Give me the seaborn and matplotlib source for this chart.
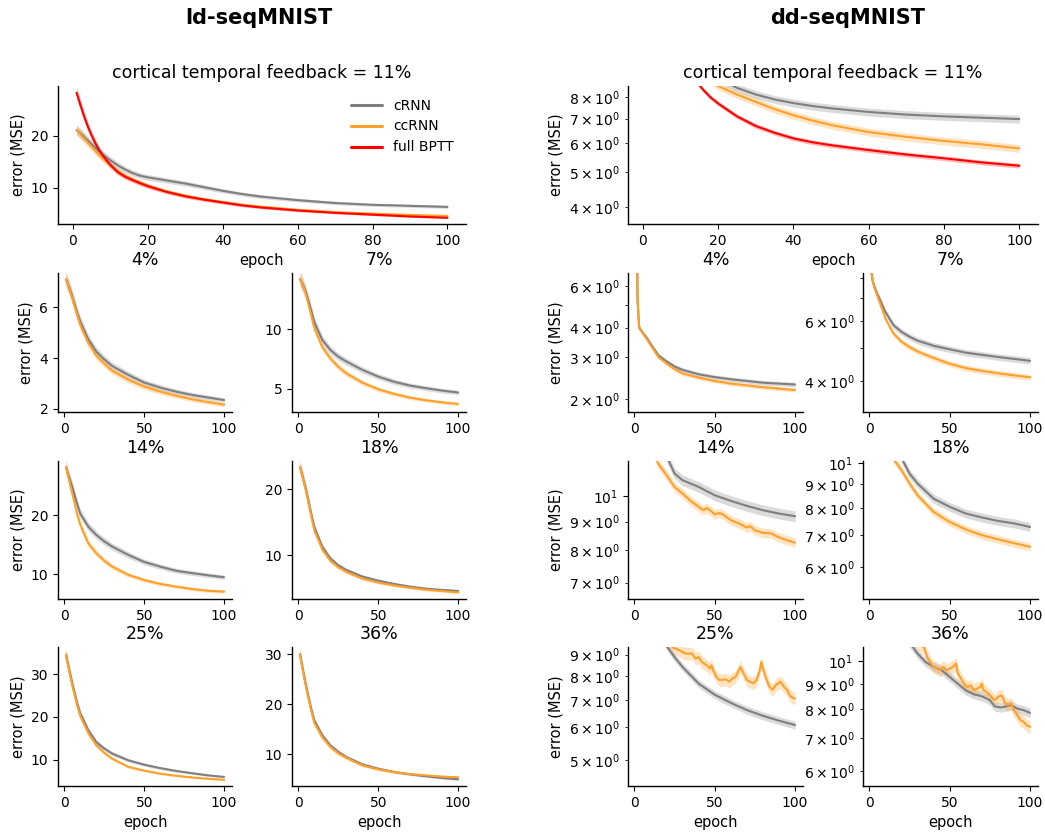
import numpy as np
import matplotlib
matplotlib.use("Agg")
import matplotlib.pyplot as plt
from matplotlib.lines import Line2D
import seaborn as sns

# ---------------- data ----------------
TOP_EPOCHS = [1, 2, 3, 4, 5, 6, 7, 8, 10, 12, 14, 16, 18, 20, 25, 30, 35, 40, 45, 50, 60, 70, 80, 90, 100]
EPOCHS = [1, 2, 3, 5, 8, 10, 15, 20, 25, 30, 40, 50, 60, 70, 80, 90, 100]

# ld-seqMNIST, 11 %
ld11_crnn = [21.1, 20.5, 19.8, 19.1, 18.4, 17.7, 17.0, 16.4, 15.3, 14.3, 13.5, 12.8, 12.3, 12.0, 11.4, 10.8, 10.1,
             9.4, 8.8, 8.3, 7.6, 7.05, 6.7, 6.5, 6.3]
ld11_ccrnn = [21.1, 20.3, 19.5, 18.7, 17.9, 17.1, 16.3, 15.6, 14.3, 13.2, 12.3, 11.6, 11.0, 10.4, 9.3, 8.45, 7.8,
              7.25, 6.75, 6.35, 5.75, 5.3, 5.0, 4.75, 4.55]
ld11_bptt = [28.3, 26.0, 23.8, 21.8, 20.1, 18.6, 17.3, 16.2, 14.4, 13.0, 12.1, 11.45, 10.85, 10.3, 9.2, 8.35, 7.7,
             7.15, 6.6, 6.2, 5.6, 5.15, 4.8, 4.45, 4.2]
# ld-seqMNIST, small panels
ld04_crnn = [7.1, 6.95, 6.8, 6.42, 5.8, 5.44, 4.74, 4.26, 3.95, 3.69, 3.34, 3.04, 2.84, 2.68, 2.55, 2.45, 2.35]
ld04_ccrnn = [7.1, 6.93, 6.75, 6.35, 5.7, 5.3, 4.6, 4.1, 3.78, 3.5, 3.15, 2.88, 2.68, 2.52, 2.38, 2.27, 2.17]
ld07_crnn = [14.2, 13.95, 13.7, 13.0, 11.6, 10.6, 9.1, 8.27, 7.7, 7.3, 6.6, 6.03, 5.6, 5.28, 5.06, 4.86, 4.7]
ld07_ccrnn = [14.2, 13.9, 13.6, 12.8, 11.2, 10.1, 8.5, 7.57, 6.85, 6.3, 5.53, 4.97, 4.58, 4.27, 4.05, 3.88, 3.74]
ld14_crnn = [28.2, 27.3, 26.5, 24.8, 22.0, 20.3, 18.1, 16.7, 15.6, 14.7, 13.3, 12.1, 11.3, 10.6, 10.2, 9.83, 9.5]
ld14_ccrnn = [28.2, 27.1, 26.0, 23.7, 20.3, 18.4, 15.25, 13.6, 12.3, 11.3, 9.9, 9.03, 8.36, 7.9, 7.5, 7.2, 7.05]
ld18_crnn = [23.4, 22.6, 21.7, 19.8, 16.4, 14.3, 11.3, 9.55, 8.5, 7.8, 6.8, 6.17, 5.67, 5.27, 4.96, 4.77, 4.62]
ld18_ccrnn = [23.4, 22.5, 21.5, 19.5, 16.0, 13.8, 10.9, 9.2, 8.2, 7.5, 6.5, 5.9, 5.45, 5.1, 4.8, 4.6, 4.4]
ld25_crnn = [34.6, 32.9, 31.2, 27.8, 23.3, 20.8, 16.9, 14.1, 12.6, 11.4, 9.84, 8.8, 8.0, 7.33, 6.8, 6.3, 5.93]
ld25_ccrnn = [34.6, 32.7, 30.8, 27.3, 22.7, 20.2, 16.2, 13.35, 11.6, 10.2, 8.3, 7.4, 6.7, 6.2, 5.8, 5.5, 5.25]
ld36_crnn = [30.1, 28.4, 26.7, 23.5, 19.2, 16.8, 13.8, 11.8, 10.5, 9.47, 8.0, 7.13, 6.47, 6.0, 5.6, 5.27, 5.0]
ld36_ccrnn = [30.1, 28.2, 26.4, 23.2, 18.8, 16.3, 13.4, 11.5, 10.2, 9.3, 7.8, 7.0, 6.45, 6.05, 5.8, 5.55, 5.4]

# dd-seqMNIST, 11 %
dd11_crnn = [20.0, 18.5, 17.2, 16.1, 15.2, 14.4, 13.7, 13.0, 12.0, 11.1, 10.4, 9.8, 9.35, 9.0, 8.5, 8.15, 7.9,
             7.72, 7.58, 7.47, 7.3, 7.18, 7.1, 7.04, 6.98]
dd11_ccrnn = [20.0, 18.5, 17.0, 15.8, 14.8, 14.0, 13.2, 12.6, 11.5, 10.5, 9.8, 9.3, 8.9, 8.6, 8.15, 7.78, 7.43,
              7.15, 6.92, 6.72, 6.43, 6.24, 6.08, 5.95, 5.8]
dd11_bptt = [25.0, 21.0, 18.5, 16.3, 14.6, 13.3, 12.3, 11.5, 10.3, 9.5, 8.9, 8.4, 8.0, 7.7, 7.1, 6.68, 6.4,
             6.18, 6.03, 5.92, 5.74, 5.58, 5.45, 5.31, 5.2]
# dd-seqMNIST, small panels
dd04_crnn = [30.0, 5.2, 4.0, 3.82, 3.6, 3.42, 3.05, 2.88, 2.74, 2.65, 2.54, 2.47, 2.42, 2.38, 2.34, 2.32, 2.3]
dd04_ccrnn = [30.0, 5.2, 4.0, 3.8, 3.55, 3.38, 3.0, 2.82, 2.67, 2.56, 2.46, 2.38, 2.32, 2.28, 2.24, 2.21, 2.18]
dd07_crnn = [8.5, 7.9, 7.6, 7.2, 6.7, 6.38, 5.84, 5.58, 5.4, 5.26, 5.08, 4.96, 4.85, 4.78, 4.71, 4.65, 4.59]
dd07_ccrnn = [8.5, 7.9, 7.55, 7.1, 6.5, 6.1, 5.52, 5.22, 5.04, 4.89, 4.68, 4.5, 4.37, 4.29, 4.22, 4.16, 4.11]
dd14_crnn = [30.0, 25.0, 22.0, 18.0, 15.0, 14.0, 12.7, 11.8, 10.97, 10.67, 10.38, 10.03, 9.8, 9.6, 9.43, 9.3, 9.2]
dd14_ccrnn_x = [1, 2, 3, 5, 8, 10, 14, 15, 20, 25, 30, 35, 40, 43, 45, 48, 50, 53, 55, 60, 65, 70, 72, 75, 80, 85, 90, 95, 100]
dd14_ccrnn = [30.0, 25.0, 22.0, 17.0, 14.0, 13.0, 11.55, 11.4, 10.9, 10.38, 10.1, 9.8, 9.56, 9.43, 9.52, 9.38, 9.27, 9.32,
              9.27, 9.05, 8.93, 8.78, 8.83, 8.68, 8.59, 8.57, 8.43, 8.33, 8.25]
dd18_crnn = [25.0, 21.0, 19.0, 16.0, 13.5, 12.5, 11.0, 10.25, 9.49, 9.04, 8.39, 8.06, 7.8, 7.65, 7.52, 7.43, 7.3]
dd18_ccrnn = [25.0, 21.0, 18.0, 15.0, 12.5, 11.5, 10.2, 9.65, 9.04, 8.53, 7.86, 7.48, 7.21, 7.01, 6.87, 6.74, 6.62]
dd25_crnn = [25.0, 21.0, 18.0, 15.0, 12.5, 11.6, 10.4, 9.45, 8.88, 8.4, 7.66, 7.2, 6.88, 6.61, 6.4, 6.23, 6.08]
dd25_ccrnn_x = [1, 2, 3, 5, 8, 10, 15, 20, 24, 28, 32, 36, 38, 40, 42, 45, 47, 48, 49, 51, 53, 57, 59, 61, 63, 65,
                66, 68, 70, 72, 74, 76, 78, 79, 80, 82, 84, 86, 88, 91, 93, 95, 97, 99, 100]
dd25_ccrnn = [25.0, 21.0, 18.0, 15.0, 12.5, 11.8, 10.6, 9.8, 9.36, 9.22, 9.05, 9.05, 8.8, 8.88, 8.64, 8.48, 8.33, 8.48,
              8.25, 7.95, 7.81, 7.84, 7.74, 7.88, 7.95, 8.25, 8.4, 8.1, 7.81, 7.74, 7.67, 7.81, 8.25, 8.64, 8.33,
              7.88, 7.53, 7.4, 7.6, 7.74, 7.53, 7.4, 7.14, 7.07, 7.05]
dd36_crnn_x = [1, 2, 3, 5, 8, 10, 15, 20, 25, 30, 35, 40, 45, 50, 55, 60, 65, 70, 75, 78, 82, 85, 88, 92, 96, 100]
dd36_crnn = [30.0, 25.0, 22.0, 18.0, 15.0, 14.0, 12.8, 11.7, 10.9, 10.35, 9.95, 9.73, 9.58, 9.29, 9.0, 8.73, 8.57,
             8.49, 8.34, 8.1, 8.06, 8.1, 8.15, 8.02, 7.96, 7.86]
dd36_ccrnn_x = [1, 2, 3, 5, 8, 10, 15, 20, 25, 30, 34, 36, 39, 42, 44, 46, 48, 50, 52, 54, 55, 57, 59, 61, 63, 65,
                67, 69, 70, 71, 73, 75, 78, 80, 82, 83, 84, 86, 88, 90, 92, 94, 96, 98, 100]
dd36_ccrnn = [30.0, 25.0, 22.0, 18.0, 15.0, 14.0, 12.8, 11.9, 11.3, 10.9, 10.64, 10.19, 9.8, 9.65, 9.58, 9.73, 9.58,
              9.65, 9.73, 9.88, 9.43, 9.22, 9.0, 8.86, 8.93, 8.73, 8.8, 8.86, 9.0, 8.73, 8.66, 8.53, 8.34, 8.46,
              8.53, 8.46, 8.27, 8.15, 8.21, 7.96, 7.78, 7.6, 7.54, 7.42, 7.37]

SERIES_NAMES = ["cRNN", "ccRNN", "full BPTT"]
PANEL_TITLES = ["4%", "7%", "14%", "18%", "25%", "36%"]
TOP_TITLE = "cortical temporal feedback = 11%"
COLUMN_TITLES = ["ld-seqMNIST", "dd-seqMNIST"]

# ---------------- style ----------------
sns.set_style("ticks")
plt.rcParams.update({
    "font.family": ["DejaVu Sans"],
    "font.size": 10,
    "axes.titlesize": 12.5,
    "axes.labelsize": 10.5,
    "xtick.labelsize": 10,
    "ytick.labelsize": 10,
    "legend.fontsize": 10,
    "text.color": "black",
    "axes.labelcolor": "black",
    "axes.edgecolor": "black",
    "xtick.color": "black",
    "ytick.color": "black",
    "axes.linewidth": 1.0,
})
C_GRAY = "#7f7f7f"
C_ORANGE = "#ffa02a"
C_RED = "#ff0000"
BAND_ALPHA = 0.28

W, H = 1045, 832
fig = plt.figure(figsize=(W / 100, H / 100), dpi=100)


def place(x0, y0, x1, y1):
    return fig.add_axes([x0 / W, 1 - y1 / H, (x1 - x0) / W, (y1 - y0) / H])


def draw(ax, x, y, color, band):
    x = np.asarray(x, float)
    y = np.asarray(y, float)
    ax.fill_between(x, y * (1 - band), y * (1 + band), color=color, alpha=BAND_ALPHA, lw=0)
    sns.lineplot(x=x, y=y, ax=ax, color=color, lw=1.5, legend=False)


def finish(ax, title, ylim, log, ylabel, xlabel):
    if log:
        ax.set_yscale("log")
    ax.set_ylim(*ylim)
    ax.set_xlim(-3.95, 104.95)
    ax.set_title(title)
    ax.set_ylabel("error (MSE)" if ylabel else "")
    ax.set_xlabel("epoch" if xlabel else "")
    sns.despine(ax=ax)


TOP = (86, 224)
ROWS = [(273, 412), (461, 599), (647, 786)]
L_COLS = [(58, 232), (292, 466)]
R_COLS = [(628, 803), (863, 1038)]

# ---- top-left: ld 11% ----
ax = place(58, TOP[0], 466, TOP[1])
draw(ax, TOP_EPOCHS, ld11_crnn, C_GRAY, 0.045)
draw(ax, TOP_EPOCHS, ld11_ccrnn, C_ORANGE, 0.045)
draw(ax, TOP_EPOCHS, ld11_bptt, C_RED, 0.04)
finish(ax, TOP_TITLE, (3.0, 29.6), False, True, True)
ax.set_xticks([0, 20, 40, 60, 80, 100])
handles = [Line2D([], [], color=c, lw=2.2) for c in (C_GRAY, C_ORANGE, C_RED)]
ax.legend(handles, SERIES_NAMES, loc="upper right", frameon=False, handlelength=2.2)

# ---- top-right: dd 11% ----
ax = place(628, TOP[0], 1038, TOP[1])
draw(ax, TOP_EPOCHS, dd11_crnn, C_GRAY, 0.025)
draw(ax, TOP_EPOCHS, dd11_ccrnn, C_ORANGE, 0.025)
draw(ax, TOP_EPOCHS, dd11_bptt, C_RED, 0.015)
finish(ax, TOP_TITLE, (3.6, 8.6), True, True, True)
ax.set_xticks([0, 20, 40, 60, 80, 100])

# ---- ld small panels ----
ld_panels = [
    (ld04_crnn, ld04_ccrnn, (1.88, 7.35), [2, 4, 6]),
    (ld07_crnn, ld07_ccrnn, (3.07, 14.7), [5, 10]),
    (ld14_crnn, ld14_ccrnn, (5.8, 29.25), [10, 20]),
    (ld18_crnn, ld18_ccrnn, (3.4, 24.3), [10, 20]),
    (ld25_crnn, ld25_ccrnn, (3.8, 36.4), [10, 20, 30]),
    (ld36_crnn, ld36_ccrnn, (3.66, 31.5), [10, 20, 30]),
]
for i, (yc, yo, yl, yt) in enumerate(ld_panels):
    r, c = divmod(i, 2)
    ax = place(L_COLS[c][0], ROWS[r][0], L_COLS[c][1], ROWS[r][1])
    draw(ax, EPOCHS, yc, C_GRAY, 0.04)
    draw(ax, EPOCHS, yo, C_ORANGE, 0.04)
    finish(ax, PANEL_TITLES[i], yl, False, c == 0, r == 2)
    ax.set_yticks(yt)

# ---- dd small panels ----
dd_panels = [
    ((EPOCHS, dd04_crnn), (EPOCHS, dd04_ccrnn), (1.76, 6.8), 0.02),
    ((EPOCHS, dd07_crnn), (EPOCHS, dd07_ccrnn), (3.25, 8.3), 0.02),
    ((EPOCHS, dd14_crnn), (dd14_ccrnn_x, dd14_ccrnn), (6.54, 11.55), 0.02),
    ((EPOCHS, dd18_crnn), (EPOCHS, dd18_ccrnn), (5.12, 10.1), 0.02),
    ((EPOCHS, dd25_crnn), (dd25_ccrnn_x, dd25_ccrnn), (4.33, 9.39), 0.035),
    ((dd36_crnn_x, dd36_crnn), (dd36_ccrnn_x, dd36_ccrnn), (5.6, 10.67), 0.03),
]
for i, (sc, so, yl, bw) in enumerate(dd_panels):
    r, c = divmod(i, 2)
    ax = place(R_COLS[c][0], ROWS[r][0], R_COLS[c][1], ROWS[r][1])
    draw(ax, sc[0], sc[1], C_GRAY, 0.022)
    draw(ax, so[0], so[1], C_ORANGE, bw)
    finish(ax, PANEL_TITLES[i], yl, True, c == 0, r == 2)

fig.text(259 / W, 1 - 18 / H, COLUMN_TITLES[0], ha="center", va="center", fontsize=15, fontweight="bold")
fig.text(848 / W, 1 - 18 / H, COLUMN_TITLES[1], ha="center", va="center", fontsize=15, fontweight="bold")

fig.savefig("out.png", dpi=100)
